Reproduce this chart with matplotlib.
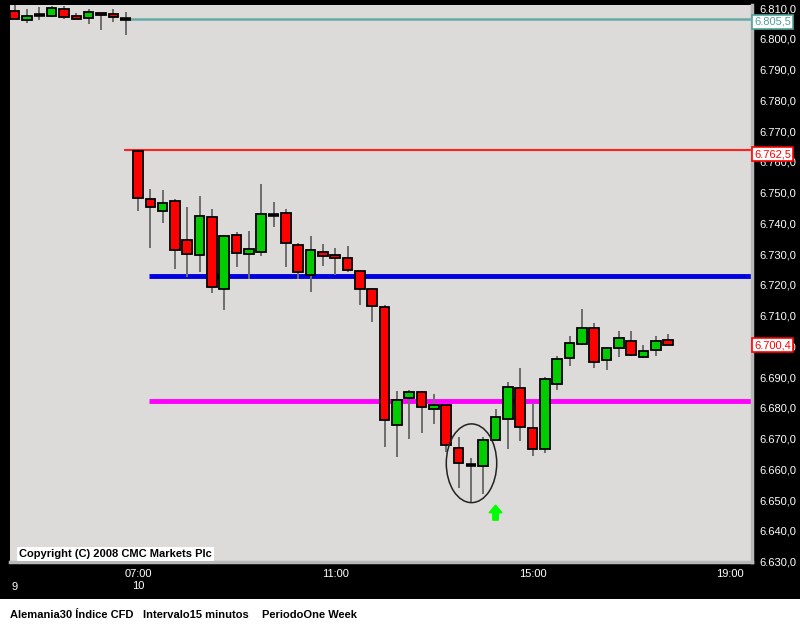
import numpy as np
import matplotlib.pyplot as plt
from matplotlib.patches import Ellipse, Rectangle
from matplotlib.transforms import blended_transform_factory

plt.rcParams['font.family'] = ['Liberation Sans', 'DejaVu Sans']

# 15 minute candles, index 0 = day 10 07:00, negatives = end of day 9
idx = np.arange(-10, 44)
opens = [6809.0, 6806.1, 6807.6, 6807.4, 6809.6, 6807.4, 6806.7, 6808.3, 6808.0, 6806.6,
         6763.6, 6747.9, 6744.0, 6747.2, 6734.5, 6729.6, 6742.0, 6718.6, 6736.1, 6730.0,
         6730.6, 6742.8, 6743.3, 6732.9, 6723.1, 6730.6, 6729.6, 6728.7, 6724.4, 6718.6,
         6712.7, 6674.4, 6683.2, 6685.1, 6679.6, 6680.9, 6666.9, 6661.6, 6661.0, 6669.7,
         6676.3, 6686.4, 6673.4, 6666.6, 6687.7, 6696.1, 6700.7, 6705.9, 6695.7, 6699.4,
         6701.7, 6696.7, 6698.7, 6702.0]
highs = [6811.1, 6809.6, 6810.4, 6810.7, 6810.7, 6808.3, 6809.6, 6808.3, 6809.6, 6808.7,
         6764.0, 6751.2, 6750.9, 6748.0, 6745.3, 6748.9, 6744.7, 6736.2, 6737.2, 6737.6,
         6752.8, 6747.0, 6744.7, 6733.6, 6735.9, 6733.3, 6732.0, 6732.7, 6724.6, 6718.9,
         6713.5, 6685.5, 6685.8, 6685.4, 6684.4, 6681.2, 6670.5, 6663.6, 6670.5, 6679.6,
         6688.4, 6693.0, 6681.5, 6690.1, 6696.8, 6703.4, 6712.2, 6707.6, 6699.9, 6705.0,
         6705.0, 6700.5, 6703.4, 6704.0]
lows = [6806.5, 6805.3, 6806.1, 6807.0, 6806.6, 6806.4, 6804.8, 6803.0, 6805.6, 6801.4,
        6744.1, 6731.9, 6740.0, 6725.3, 6722.7, 6724.3, 6717.5, 6711.9, 6725.9, 6721.8,
        6729.5, 6738.9, 6725.9, 6721.8, 6717.8, 6726.3, 6723.1, 6724.3, 6713.3, 6708.0,
        6667.2, 6664.1, 6669.8, 6672.0, 6674.7, 6665.8, 6653.9, 6649.3, 6651.9, 6669.5,
        6666.6, 6669.2, 6664.3, 6665.4, 6685.7, 6693.7, 6700.5, 6693.1, 6692.4, 6696.7,
        6697.0, 6696.3, 6696.8, 6700.4]
closes = [6806.5, 6807.4, 6807.6, 6810.0, 6807.0, 6806.4, 6808.7, 6807.6, 6807.0, 6806.6,
          6748.2, 6745.3, 6746.6, 6731.3, 6730.0, 6742.3, 6719.2, 6735.8, 6730.3, 6731.7,
          6743.0, 6742.8, 6733.5, 6724.1, 6731.3, 6729.5, 6728.7, 6725.0, 6718.6, 6713.1,
          6676.0, 6682.5, 6685.1, 6680.2, 6680.9, 6667.9, 6662.0, 6661.6, 6669.5, 6677.0,
          6686.7, 6673.7, 6666.6, 6689.3, 6695.8, 6701.0, 6705.9, 6694.8, 6699.4, 6702.6,
          6697.1, 6698.4, 6701.7, 6700.4]

# horizontal study lines and price tags
line_levels = [6806.4, 6763.8, 6722.9, 6682.3]
line_colors = ['#66aaa6', '#ff2020', '#0000e0', '#ff00ff']
tag_values = [6805.5, 6762.5, 6700.4]
tag_colors = ['#4fa39b', '#ff0000', '#ff0000']

tick_pos = [0, 16, 32, 48]
tick_labels = ['07:00\n10', '11:00', '15:00', '19:00']

opens = np.array(opens); closes = np.array(closes)
highs = np.array(highs); lows = np.array(lows)

fig = plt.figure(figsize=(8, 6.25), dpi=100)
fig.patch.set_facecolor('black')
fig.patches.append(Rectangle((0, 0), 1, 26 / 625, transform=fig.transFigure,
                             facecolor='white', edgecolor='none', zorder=0))

ax = fig.add_axes([10 / 800, 1 - 562 / 625, 742 / 800, 557 / 625])
ax.set_facecolor('#dcdbda')
ax.set_xlim(-10.38, 49.8)
ax.set_ylim(6629.9, 6811.0)

# wicks
ax.vlines(idx, lows, highs, color='#6e6e6e', lw=1.4, zorder=2)

# bodies
up = closes > opens
down = closes < opens
doji = closes == opens
ax.bar(idx[up], closes[up] - opens[up], bottom=opens[up], width=0.78,
       color='#00cc00', edgecolor='black', linewidth=1.3, zorder=3)
ax.bar(idx[down], opens[down] - closes[down], bottom=closes[down], width=0.78,
       color='#ff0000', edgecolor='black', linewidth=1.3, zorder=3)
ax.hlines(closes[doji], idx[doji] - 0.42, idx[doji] + 0.42, color='black', lw=2.6, zorder=3)

# study lines
starts = [-1.2, -1.1, 0.9, 0.9]
widths = [1.8, 1.5, 3.5, 3.5]
for lev, col, x0, w in zip(line_levels, line_colors, starts, widths):
    ax.plot([x0, 49.8], [lev, lev], color=col, lw=w, zorder=1.5, solid_capstyle='butt')

# circle around the low and arrow
ax.add_patch(Ellipse((27.05, 6662.0), 4.09, 25.6, fill=False, edgecolor='#222222', lw=1.1, zorder=4))
ax.arrow(29.0, 6643.5, 0, 2.4, width=0.45, head_width=1.05, head_length=2.5,
         length_includes_head=False, color='#00ff00', zorder=4)

# axes styling
for s in ['left', 'top']:
    ax.spines[s].set_visible(False)
for s in ['right', 'bottom']:
    ax.spines[s].set_color('#b8b8b8')
    ax.spines[s].set_linewidth(2.5)

yt = np.arange(6630, 6811, 10)
ax.yaxis.tick_right()
ax.set_yticks(yt)
ax.set_yticklabels([f"{v:,.1f}".replace(',', '#').replace('.', ',').replace('#', '.') for v in yt])
ax.set_xticks(tick_pos)
ax.set_xticklabels(tick_labels)
ax.tick_params(axis='both', length=0, colors='white', labelsize=8)
ax.tick_params(axis='y', pad=5)
ax.tick_params(axis='x', pad=5)
for t in ax.get_xticklabels():
    t.set_linespacing(1.25)
ax.text(-10, -0.036, '9', transform=blended_transform_factory(ax.transData, ax.transAxes),
        color='white', fontsize=8, ha='center', va='top')

# price tags on the right axis
tr = blended_transform_factory(ax.transAxes, ax.transData)
for v, col in zip(tag_values, tag_colors):
    lab = f"{v:,.1f}".replace(',', '#').replace('.', ',').replace('#', '.')
    ax.text(1.003, v, lab, transform=tr, color=col, fontsize=8, ha='left', va='center',
            zorder=10, clip_on=False,
            bbox=dict(boxstyle='square,pad=0.2', facecolor='white', edgecolor=col, lw=1.2))

ax.text(0.012, 0.005, 'Copyright (C) 2008 CMC Markets Plc', transform=ax.transAxes,
        fontsize=8, fontweight='bold', color='black', ha='left', va='bottom', zorder=10,
        bbox=dict(boxstyle='square,pad=0.2', facecolor='white', edgecolor='none'))

for xp, s in zip([10, 143, 262], ['Alemania30 Índice CFD', 'Intervalo15 minutos', 'PeriodoOne Week']):
    fig.text(xp / 800, 1 - 615 / 625, s, fontsize=8, fontweight='bold', color='black',
             ha='left', va='center')

fig.savefig('out.png', dpi=100, facecolor=fig.get_facecolor())
